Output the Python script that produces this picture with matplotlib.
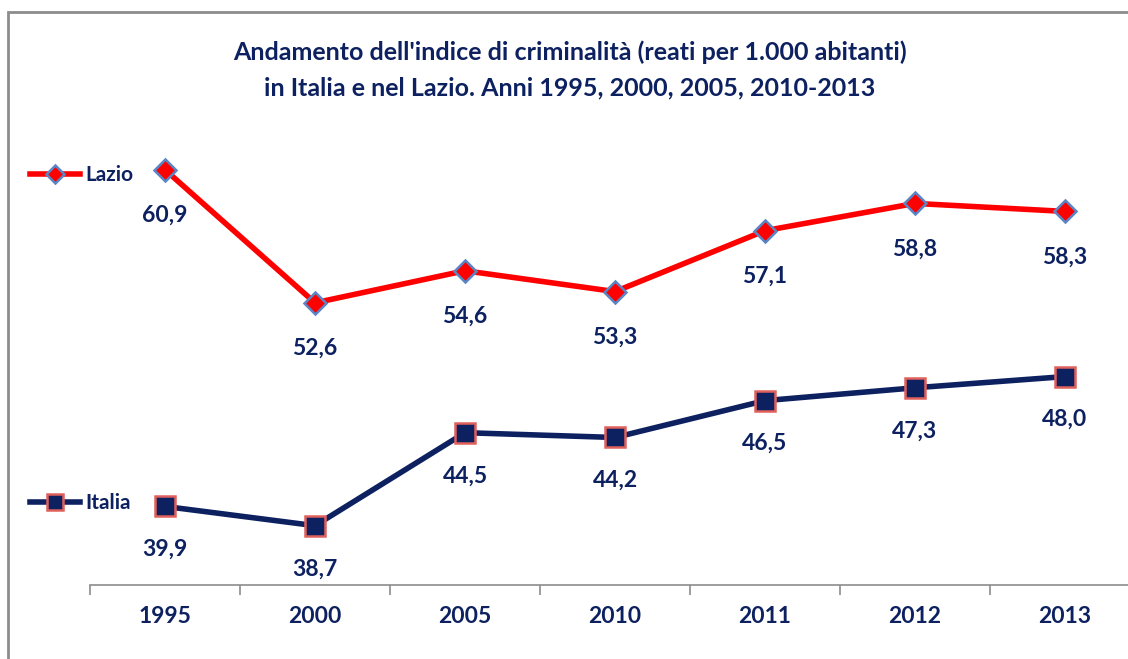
import matplotlib.pyplot as plt
from matplotlib.patches import Rectangle

plt.rcParams['font.family'] = ['Lato', 'DejaVu Sans']

anni = ['1995', '2000', '2005', '2010', '2011', '2012', '2013']
lazio = [60.9, 52.6, 54.6, 53.3, 57.1, 58.8, 58.3]
italia = [39.9, 38.7, 44.5, 44.2, 46.5, 47.3, 48.0]

navy = '#0D2160'
red = '#FF0000'

fig = plt.figure(figsize=(11.28, 6.59), dpi=100)
ax = fig.add_axes([90 / 1128, 74 / 659, 1050 / 1128, 481 / 659])

x = list(range(len(anni)))
l1, = ax.plot(x, lazio, color=red, lw=4, marker='D', markersize=11,
              markerfacecolor=red, markeredgecolor='#5B85C4', markeredgewidth=1.8,
              zorder=3)
l2, = ax.plot(x, italia, color=navy, lw=4, marker='s', markersize=14,
              markerfacecolor=navy, markeredgecolor='#E0605C', markeredgewidth=1.8,
              zorder=3)

for xi, v in zip(x, lazio):
    ax.annotate(f'{v:.1f}'.replace('.', ','), (xi, v), xytext=(0, -33),
                textcoords='offset points', ha='center', va='center',
                fontsize=16.5, fontweight='bold', color=navy)
for xi, v in zip(x, italia):
    ax.annotate(f'{v:.1f}'.replace('.', ','), (xi, v), xytext=(0, -31),
                textcoords='offset points', ha='center', va='center',
                fontsize=16.5, fontweight='bold', color=navy)

ax.set_xlim(-0.5, 6.5)
ax.set_ylim(35.0, 65.0)
ax.set_xticks([i + 0.5 for i in range(-1, 7)], minor=False)
ax.set_xticklabels([])
ax.set_xticks(x, minor=True)
ax.set_xticklabels(anni, minor=True, fontsize=16.5, fontweight='bold', color=navy)
ax.tick_params(axis='x', which='major', length=7, width=1.2, color='#8c8c8c',
               direction='out')
ax.tick_params(axis='x', which='minor', length=0, pad=15)
ax.set_yticks([])
for s in ['top', 'right', 'left']:
    ax.spines[s].set_visible(False)
ax.spines['bottom'].set_color('#8c8c8c')
ax.spines['bottom'].set_linewidth(1.2)

for line, name, ypix in [(l1, 'Lazio', 175), (l2, 'Italia', 503)]:
    leg = fig.legend([line], [name], loc='center left',
                     bbox_to_anchor=(30 / 1128, 1 - ypix / 659), frameon=False,
                     borderpad=0, borderaxespad=0,
                     handlelength=2.4, handletextpad=0.25, markerscale=0.85,
                     prop={'size': 15, 'weight': 'bold'})
    for t in leg.get_texts():
        t.set_color(navy)

fig.text(0.505, 1 - 52 / 659,
         "Andamento dell'indice di criminalità (reati per 1.000 abitanti)",
         ha='center', va='center', fontsize=18, fontweight='bold', color=navy)
fig.text(0.505, 1 - 88 / 659,
         "in Italia e nel Lazio. Anni 1995, 2000, 2005, 2010-2013",
         ha='center', va='center', fontsize=18, fontweight='bold', color=navy)

fig.patches.append(Rectangle((8 / 1128, -0.05), 1.1, 1 - 12 / 659 + 0.05,
                             transform=fig.transFigure, fill=False,
                             edgecolor='#8c8c8c', linewidth=2))

fig.savefig('out.png', dpi=100)
